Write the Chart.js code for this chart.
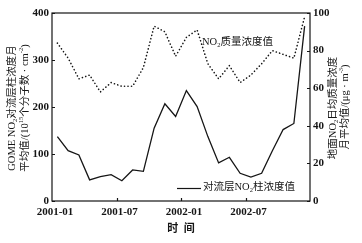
<!DOCTYPE html>
<html>
<head>
<meta charset="utf-8">
<script src="https://cdn.jsdelivr.net/npm/chart.js@4/dist/chart.umd.min.js"></script>
<style>
  html, body { margin: 0; padding: 0; background: #fff; }
</style>
</head>
<body>
<canvas id="chart" width="362" height="243"></canvas>
<script>
// months 2001-01 .. 2002-12
const months = ['2001-01', '2001-02', '2001-03', '2001-04', '2001-05', '2001-06',
                '2001-07', '2001-08', '2001-09', '2001-10', '2001-11', '2001-12',
                '2002-01', '2002-02', '2002-03', '2002-04', '2002-05', '2002-06',
                '2002-07', '2002-08', '2002-09', '2002-10', '2002-11', '2002-12'];
// GOME tropospheric NO2 column (10^15 molec/cm2), left axis
const tropoNO2 = [137, 107, 98, 45, 52, 56, 43, 66, 63, 155, 207, 180,
                  235, 201, 137, 81, 93, 59, 51, 59, 107, 152, 165, 372];
// ground NO2 mass concentration (ug/m3), right axis
const groundNO2 = [84, 76, 65, 67, 58, 63, 61, 61, 71, 93, 90, 77,
                   87, 91, 73, 65, 72, 63, 67, 73, 80, 78, 76, 98];
const xTickLabels = ['2001-01', '2001-07', '2002-01', '2002-07', ''];
const leftTicks = [0, 100, 200, 300, 400];
const rightTicks = [0, 20, 40, 60, 80, 100];

const FONT = "'Liberation Serif', 'Noto Sans CJK SC', serif";
const INK = '#151515';

// draw a string made of parts, with sub/superscripts
function drawRich(ctx, parts, x, y, size, opts) {
  opts = opts || {};
  ctx.save();
  ctx.translate(x, y);
  if (opts.rotate) ctx.rotate(opts.rotate);
  ctx.fillStyle = INK;
  ctx.textBaseline = 'middle';
  ctx.textAlign = 'left';
  let total = 0;
  parts.forEach(p => {
    const s = p[1] ? size * 0.62 : size;
    ctx.font = (opts.bold ? 'bold ' : '') + s + 'px ' + FONT;
    p.w = ctx.measureText(p[0]).width;
    total += p.w;
  });
  let cx = opts.align === 'left' ? 0 : -total / 2;
  parts.forEach(p => {
    const s = p[1] ? size * 0.62 : size;
    ctx.font = (opts.bold ? 'bold ' : '') + s + 'px ' + FONT;
    let dy = 0;
    if (p[1] === 'sub') dy = size * 0.3;
    if (p[1] === 'sup') dy = -size * 0.35;
    ctx.fillText(p[0], cx, dy);
    cx += p.w;
  });
  ctx.restore();
}

const decorPlugin = {
  id: 'decor',
  afterDraw(chart) {
    const ctx = chart.ctx;
    const a = chart.chartArea;
    const sx = chart.scales.x, sy = chart.scales.y, sy1 = chart.scales.y1;
    ctx.save();
    ctx.strokeStyle = INK;
    ctx.lineWidth = 1.2;
    ctx.strokeRect(a.left, a.top, a.right - a.left, a.bottom - a.top);
    ctx.beginPath();
    leftTicks.forEach(v => {
      const py = Math.round(sy.getPixelForValue(v)) + 0.5;
      ctx.moveTo(a.left, py); ctx.lineTo(a.left + 3, py);
    });
    rightTicks.forEach(v => {
      const py = Math.round(sy1.getPixelForValue(v)) + 0.5;
      ctx.moveTo(a.right, py); ctx.lineTo(a.right - 3, py);
    });
    [6, 12, 18].forEach(v => {
      const px = Math.round(sx.getPixelForValue(v)) + 0.5;
      ctx.moveTo(px, a.bottom); ctx.lineTo(px, a.bottom - 3);
    });
    ctx.stroke();

    // in-chart labels
    drawRich(ctx, [['NO'], ['2', 'sub'], ['质量浓度值']], 202, 42, 10.5, { align: 'left' });
    ctx.lineWidth = 1.2;
    ctx.beginPath();
    ctx.moveTo(177, 188.5); ctx.lineTo(201, 188.5);
    ctx.stroke();
    drawRich(ctx, [['对流层NO'], ['2', 'sub'], ['柱浓度值']], 203, 187, 10.5, { align: 'left' });

    // axis titles
    drawRich(ctx, [['GOME NO'], ['2', 'sub'], ['对流层柱浓度月']], 12, 108, 10.5, { rotate: -Math.PI / 2 });
    drawRich(ctx, [['平均值/(10'], ['15', 'sup'], ['个分子数 · cm'], ['-2', 'sup'], [')']], 25, 108, 10.5, { rotate: -Math.PI / 2 });
    drawRich(ctx, [['地面NO'], ['2', 'sub'], ['日均质量浓度']], 333, 108, 10.5, { rotate: -Math.PI / 2 });
    drawRich(ctx, [['月平均值/(μg · m'], ['-3', 'sup'], [')']], 345, 107, 10.5, { rotate: -Math.PI / 2 });
    drawRich(ctx, [['时  间']], 181, 229, 11, { bold: true });
    ctx.restore();
  }
};

const tickFont = { family: "'Liberation Serif'", size: 11, weight: 'bold' };

new Chart(document.getElementById('chart'), {
  type: 'line',
  data: {
    datasets: [
      {
        label: '对流层NO2柱浓度值',
        data: tropoNO2.map((v, i) => ({ x: i + 0.5, y: v })),
        yAxisID: 'y',
        borderColor: INK,
        borderWidth: 1.3,
        pointRadius: 0,
        tension: 0,
        fill: false
      },
      {
        label: 'NO2质量浓度值',
        data: groundNO2.map((v, i) => ({ x: i + 0.5, y: v })),
        yAxisID: 'y1',
        borderColor: INK,
        borderWidth: 1.6,
        borderDash: [0.1, 3.4],
        borderCapStyle: 'round',
        pointRadius: 0,
        tension: 0,
        fill: false
      }
    ]
  },
  options: {
    responsive: false,
    maintainAspectRatio: false,
    animation: false,
    layout: { padding: { left: 0, right: 0, top: 13, bottom: 0 } },
    plugins: { legend: { display: false }, tooltip: { enabled: false } },
    scales: {
      x: {
        type: 'linear',
        min: 0,
        max: 24,
        afterFit: s => { s.height = 42; },
        afterBuildTicks: s => { s.ticks = [0, 6, 12, 18, 24].map(v => ({ value: v })); },
        grid: { display: false, drawTicks: false },
        border: { display: false },
        ticks: {
          font: tickFont,
          color: INK,
          padding: 5,
          labelOffset: 3,
          maxRotation: 0,
          autoSkip: false,
          callback: (v) => xTickLabels[v / 6]
        }
      },
      y: {
        position: 'left',
        min: 0,
        max: 400,
        afterFit: s => { s.width = 52; },
        grid: { display: false, drawTicks: false },
        border: { display: false },
        ticks: { stepSize: 100, font: tickFont, color: INK, padding: 3 }
      },
      y1: {
        position: 'right',
        min: 0,
        max: 100,
        afterFit: s => { s.width = 52; },
        grid: { display: false, drawTicks: false },
        border: { display: false },
        ticks: { stepSize: 20, font: tickFont, color: INK, padding: 3 }
      }
    }
  },
  plugins: [decorPlugin]
});
</script>
</body>
</html>
